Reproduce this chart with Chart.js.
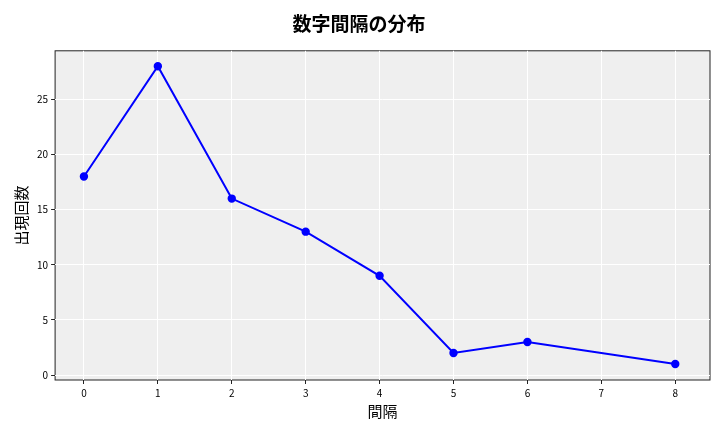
<!DOCTYPE html>
<html>
<head>
<meta charset="utf-8">
<script src="https://cdn.jsdelivr.net/npm/chart.js@4/dist/chart.umd.min.js"></script>
<style>
  body { margin: 0; background: #fff; }
  #wrap { width: 720px; height: 432px; }
</style>
</head>
<body>
<div id="wrap"><canvas id="c"></canvas></div>
<script>
const intervals = [0, 1, 2, 3, 4, 5, 6, 8];
const counts = [18, 28, 16, 13, 9, 2, 3, 1];

const bgPlugin = {
  id: 'bg',
  beforeDraw(chart) {
    const a = chart.chartArea, c = chart.ctx;
    c.save();
    c.fillStyle = '#efefef';
    c.fillRect(a.left, a.top, a.right - a.left, a.bottom - a.top);
    c.strokeStyle = '#222';
    c.lineWidth = 1;
    c.strokeRect(a.left, a.top, a.right - a.left, a.bottom - a.top);
    c.restore();
  }
};

const font = '"Noto Sans CJK JP", "DejaVu Sans", sans-serif';

new Chart(document.getElementById('c').getContext('2d'), {
  type: 'line',
  data: {
    datasets: [{
      data: intervals.map((x, i) => ({ x: x, y: counts[i] })),
      borderColor: '#0000ff',
      backgroundColor: '#0000ff',
      borderWidth: 2,
      pointRadius: 3.2,
      tension: 0
    }]
  },
  options: {
    responsive: true,
    maintainAspectRatio: false,
    animation: false,
    layout: { padding: { left: 8, right: 10, top: 2, bottom: 12 } },
    plugins: {
      legend: { display: false },
      tooltip: { enabled: false },
      title: {
        display: true,
        text: '数字間隔の分布',
        color: '#000',
        font: { family: font, size: 19, weight: 'bold' },
        padding: { top: 10, bottom: 16 }
      }
    },
    scales: {
      x: {
        type: 'linear',
        min: -0.39, max: 8.47,
        afterBuildTicks: s => { s.ticks = [0,1,2,3,4,5,6,7,8].map(v => ({ value: v })); },
        grid: { color: '#ffffff', drawTicks: true, tickColor: '#222', tickLength: 4 },
        border: { display: false },
        ticks: { color: '#000', font: { family: font, size: 10 }, maxRotation: 0 },
        title: { display: true, text: '間隔', color: '#000', font: { family: font, size: 15 }, padding: 0 }
      },
      y: {
        min: -0.45, max: 29.4,
        afterBuildTicks: s => { s.ticks = [0,5,10,15,20,25].map(v => ({ value: v })); },
        grid: { color: '#ffffff', drawTicks: true, tickColor: '#222', tickLength: 4 },
        border: { display: false },
        ticks: { color: '#000', font: { family: font, size: 10 } },
        title: { display: true, text: '出現回数', color: '#000', font: { family: font, size: 15 }, padding: 4 }
      }
    }
  },
  plugins: [bgPlugin]
});
</script>
</body>
</html>
